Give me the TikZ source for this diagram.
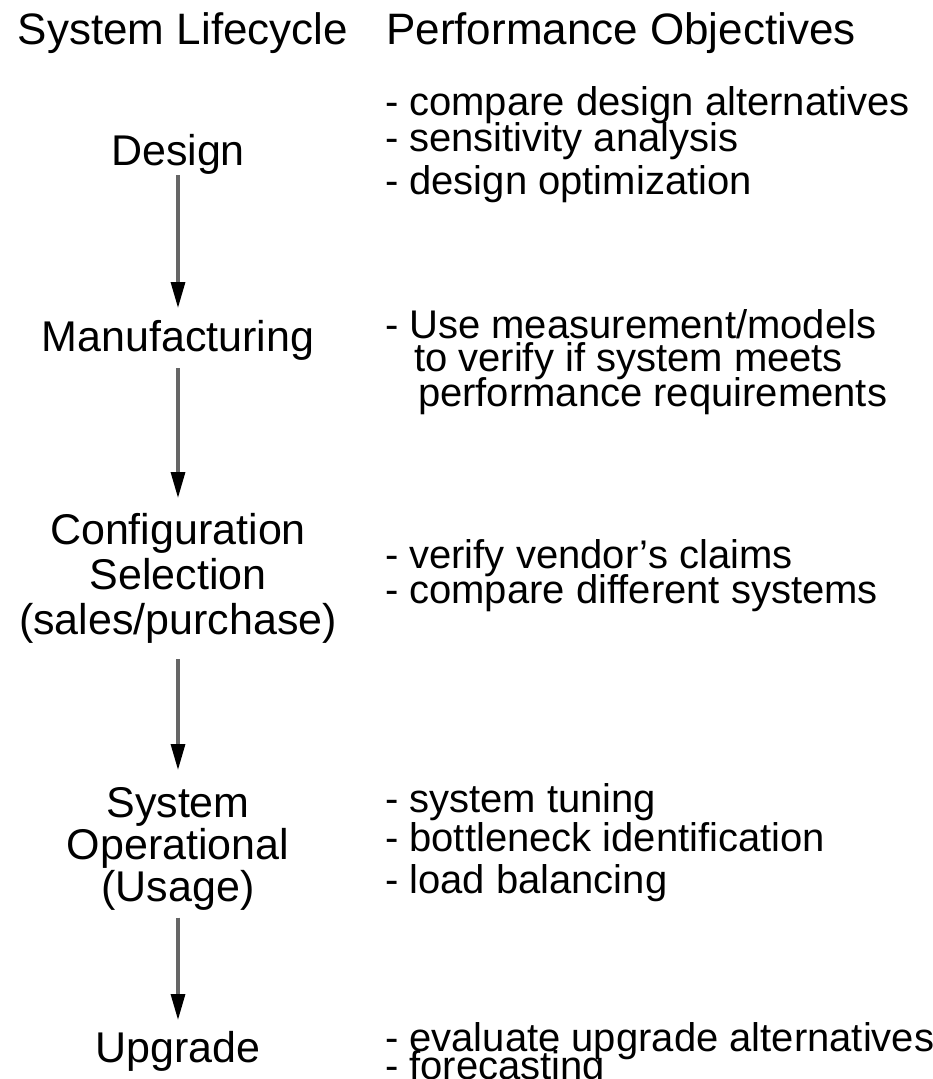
\documentclass[tikz,border=0pt]{standalone}
\usepackage{fontspec}
\setmainfont{Liberation Sans}
\usetikzlibrary{arrows.meta}
\begin{document}
\begin{tikzpicture}[x=1pt,y=-1pt,
  title/.style={inner sep=0pt,outer sep=0pt,anchor=base,font=\fontsize{44}{48}\selectfont},
  stage/.style={inner sep=0pt,outer sep=0pt,anchor=base,font=\fontsize{43}{45}\selectfont},
  item/.style={inner sep=0pt,outer sep=0pt,anchor=base west,font=\fontsize{40}{44}\selectfont},
  flow/.style={draw=black!60,line width=3.2pt,-{Triangle[length=26pt,width=14pt,color=black]}}]
\useasboundingbox (0,0) rectangle (933,1079);
% titles
\node[title] (t1) at (183,44) {System Lifecycle};
\node[title] (t2) at (621,44) {Performance Objectives};
% stages
\node[stage] (design) at (178,165) {\begin{tabular}[t]{@{}c@{}}Design\end{tabular}};
\node[stage] (manuf) at (178,351) {\begin{tabular}[t]{@{}c@{}}Manufacturing\end{tabular}};
\node[stage] (config) at (178,544) {\begin{tabular}[t]{@{}c@{}}Configuration\\Selection\\(sales/purchase)\end{tabular}};
\node[stage] (sysop) at (178,817) {\begin{tabular}[t]{@{}c@{}}System\\[-3pt]Operational\\[-3pt](Usage)\end{tabular}};
\node[stage] (upgrade) at (178,1062) {\begin{tabular}[t]{@{}c@{}}Upgrade\end{tabular}};
% arrows
\draw[flow,shorten <=-3.5pt,shorten >=11.5pt] (design.south) -- (manuf.north);
\draw[flow,shorten <=3.5pt,shorten >=14.5pt] (manuf.south) -- (config.north);
\draw[flow,shorten <=11.5pt,shorten >=15.5pt] (config.south) -- (sysop.north);
\draw[flow,shorten <=3pt,shorten >=10.5pt] (sysop.south) -- (upgrade.north);
% objectives
\node[item] (d1) at (385,115) {- compare design alternatives};
\node[item] (d2) at (385,151) {- sensitivity analysis};
\node[item] (d3) at (385,194) {- design optimization};
\node[item] (m1) at (385,338) {- Use measurement/models};
\node[item] (m2) at (414,371) {to verify if system meets};
\node[item] (m3) at (418,406) {performance requirements};
\node[item] (c1) at (385,568) {- verify vendor’s claims};
\node[item] (c2) at (385,603) {- compare different systems};
\node[item] (s1) at (385,812) {- system tuning};
\node[item] (s2) at (385,851) {- bottleneck identification};
\node[item] (s3) at (385,893) {- load balancing};
\node[item] (u1) at (385,1051) {- evaluate upgrade alternatives};
\node[item] (u2) at (385,1079) {- forecasting};
\end{tikzpicture}
\end{document}
